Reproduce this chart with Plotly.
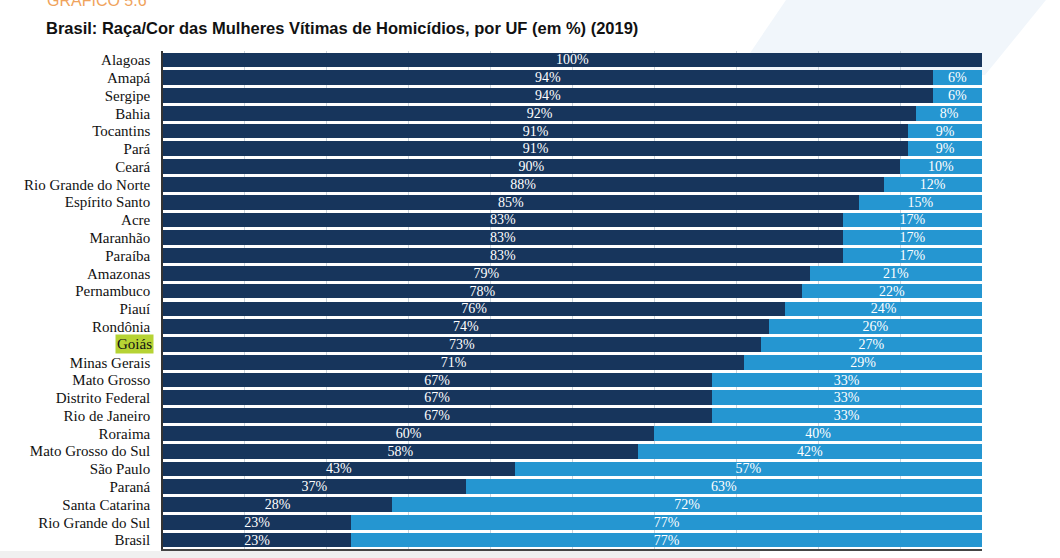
import plotly.graph_objects as go

categories = ["Alagoas", "Amapá", "Sergipe", "Bahia", "Tocantins", "Pará", "Ceará",
              "Rio Grande do Norte", "Espírito Santo", "Acre", "Maranhão", "Paraíba",
              "Amazonas", "Pernambuco", "Piauí", "Rondônia", "Goiás", "Minas Gerais",
              "Mato Grosso", "Distrito Federal", "Rio de Janeiro", "Roraima",
              "Mato Grosso do Sul", "São Paulo", "Paraná", "Santa Catarina",
              "Rio Grande do Sul", "Brasil"]
negras = [100, 94, 94, 92, 91, 91, 90, 88, 85, 83, 83, 83, 79, 78, 76, 74, 73, 71,
          67, 67, 67, 60, 58, 43, 37, 28, 23, 23]
nao_negras = [0, 6, 6, 8, 9, 9, 10, 12, 15, 17, 17, 17, 21, 22, 24, 26, 27, 29,
              33, 33, 33, 40, 42, 57, 63, 72, 77, 77]
highlight = "Goiás"

DARK = "#17355c"
LIGHT = "#2596d1"

W, H = 1060, 558
ML, MR, MT, MB = 163, 78, 51, 9
PW, PH = W - ML - MR, H - MT - MB


def px(x):
    return (x - ML) / PW


def py(y):
    return (H - MB - y) / PH


fig = go.Figure()
fig.add_trace(go.Bar(
    y=categories, x=negras, orientation="h", name="Negras",
    marker=dict(color=DARK, line=dict(width=0)),
    text=[f"{v}%" if v else "" for v in negras],
    textposition="inside", insidetextanchor="middle",
    textfont=dict(family="Liberation Serif", size=14, color="white"),
))
fig.add_trace(go.Bar(
    y=categories, x=nao_negras, orientation="h", name="Não negras",
    marker=dict(color=LIGHT, line=dict(width=0)),
    text=[f"{v}%" if v else "" for v in nao_negras],
    textposition="inside", insidetextanchor="middle",
    textfont=dict(family="Liberation Serif", size=14, color="white"),
))

ticktext = ["" if c == highlight else c for c in categories]

fig.update_layout(
    width=W, height=H,
    barmode="stack", bargap=0.17,
    showlegend=False,
    plot_bgcolor="rgba(0,0,0,0)", paper_bgcolor="white",
    margin=dict(l=ML, r=MR, t=MT, b=MB),
    uniformtext=dict(minsize=14, mode="show"),
    xaxis=dict(range=[0, 100], dtick=10, showticklabels=False, ticks="",
               showgrid=True, gridcolor="#c9d3dc", gridwidth=1, zeroline=False,
               showline=True, linecolor="#444444", linewidth=1.5, fixedrange=True),
    yaxis=dict(autorange="reversed", tickmode="array", tickvals=categories,
               ticktext=ticktext, ticks="outside", ticklen=8, tickcolor="rgba(0,0,0,0)",
               tickfont=dict(family="Liberation Serif", size=15, color="#111111"),
               showline=True, linecolor="#333333", linewidth=1.5, showgrid=False),
    font=dict(family="Liberation Serif"),
)

# faint decorative background shape (top right)
pts = [(733, 78), (786, 0), (1046, 0), (985, 75)]
path = "M " + " L ".join(f"{px(x):.4f},{py(y):.4f}" for x, y in pts) + " Z"
fig.add_shape(type="path", xref="paper", yref="paper", path=path,
              fillcolor="#f1f6fb", line=dict(width=0), layer="below")
# faint gray band at bottom
fig.add_shape(type="rect", xref="paper", yref="paper",
              x0=px(0), x1=px(760), y0=py(558), y1=py(551),
              fillcolor="#f0f0f0", line=dict(width=0), layer="below")

# highlighted label
fig.add_annotation(x=0, xref="paper", y=highlight, yref="y", text=highlight,
                   showarrow=False, xanchor="right", xshift=-9,
                   font=dict(family="Liberation Serif", size=15, color="#111111"),
                   bgcolor="#b6d334", borderpad=1)

fig.add_annotation(x=px(45), xref="paper", y=py(11), yref="paper",
                   text="GRÁFICO 5.6", showarrow=False, xanchor="left", yanchor="bottom",
                   font=dict(family="Liberation Sans", size=16, color="#f0a35c"))
fig.add_annotation(x=px(44), xref="paper", y=py(28), yref="paper",
                   text="<b>Brasil: Raça/Cor das Mulheres Vítimas de Homicídios, por UF (em %) (2019)</b>",
                   showarrow=False, xanchor="left", yanchor="middle",
                   font=dict(family="Liberation Sans", size=16.5, color="#111111"))

fig.write_html("out.html", config={"displayModeBar": False},
               post_script="document.body.style.margin='0px';document.body.style.padding='0px';")
